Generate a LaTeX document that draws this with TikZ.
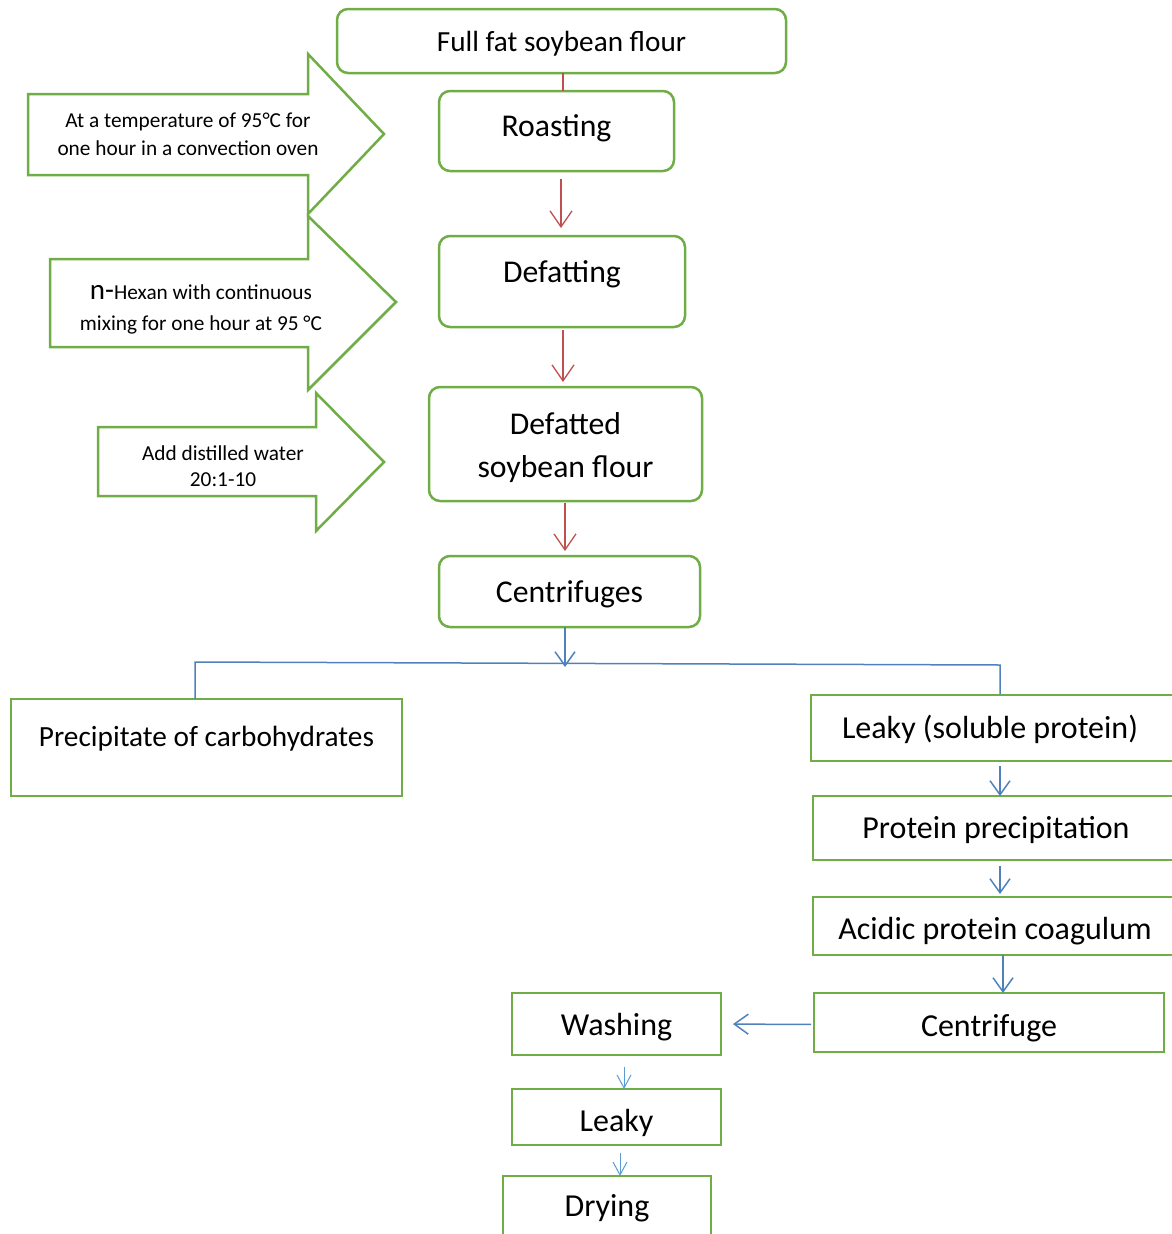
\documentclass[tikz,border=0pt]{standalone}
\usepackage{fontspec}
\setmainfont{Carlito}
\usetikzlibrary{arrows.meta}
\definecolor{grn}{HTML}{70AD47}
\definecolor{rd}{HTML}{C0504D}
\definecolor{bl}{HTML}{4F81BD}
\definecolor{lbl}{HTML}{5B9BD5}
\begin{document}
\begin{tikzpicture}[x=1pt,y=-1pt,
  rbox/.style={draw=grn, line width=2.5pt, rounded corners=11pt, inner sep=0pt, outer sep=0pt, align=center, font=\fontsize{31.7}{43}\selectfont},
  sbox/.style={draw=grn, line width=2.5pt, inner sep=0pt, outer sep=0pt, align=center, font=\fontsize{32}{36}\selectfont},
  btxt/.style={inner sep=0pt, align=center, font=\fontsize{32}{36}\selectfont},
  bigarrow/.style={draw=grn, line width=2.5pt, fill=white},
  atxt/.style={inner sep=0pt, align=center},
  redl/.style={draw=rd, line width=1.3pt},
  reda/.style={draw=rd, line width=1.3pt, -{Straight Barb[length=16pt,width=22pt]}},
  bll/.style={draw=bl, line width=1.5pt},
  bla/.style={draw=bl, line width=1.5pt, -{Straight Barb[length=14pt,width=20pt]}},
  lba/.style={draw=lbl, line width=1pt, -{Straight Barb[length=13pt,width=14pt]}}
]
\useasboundingbox (0,0) rectangle (1171,1234);

% block arrows on the left
\draw[bigarrow] (28,94) -- (308,94) -- (308,54) -- (384,134) -- (308,214) -- (308,175) -- (28,175) -- cycle;
\draw[bigarrow] (50,259) -- (308,259) -- (308,216) -- (396,302) -- (308,390) -- (308,347) -- (50,347) -- cycle;
\draw[bigarrow] (98,427) -- (316,427) -- (316,393) -- (384,462) -- (316,531) -- (316,496) -- (98,496) -- cycle;
\node[atxt, font=\fontsize{21.3}{28}\selectfont] (t1) at (188,134) {At a temperature of 95°C for\\one hour in a convection oven};
\node[atxt, font=\fontsize{21.3}{31}\selectfont] (t2) at (201,309) {{\fontsize{29}{29}\selectfont n-}Hexan with continuous\\mixing for one hour at 95 °C};
\node[atxt, font=\fontsize{21.3}{26}\selectfont] (t3) at (223,466) {Add distilled water\\20:1-10};

% main column
\node[rbox, font=\fontsize{29.2}{34}\selectfont, text height=25pt, minimum width=449pt, minimum height=64pt] (full) at (561.5,41) {Full fat soybean flour};
\node[rbox, text depth=11pt, minimum width=235pt, minimum height=80pt] (roast) at (556.5,131) {Roasting};
\node[rbox, text depth=20pt, minimum width=246pt, minimum height=91pt] (defat) at (562,281.5) {Defatting};
\node[rbox, minimum width=273pt, minimum height=114pt] (deff) at (565.5,444) {};
\node[atxt, font=\fontsize{31.7}{43}\selectfont] (defft) at (565.5,448) {Defatted\\soybean flour};
\node[rbox, text height=27pt, minimum width=261pt, minimum height=71pt] (cent) at (569.5,591.5) {Centrifuges};

\draw[redl] ([xshift=1.5pt]full.south) -- ([xshift=1.5pt]full.south |- roast.north);
\draw[reda, shorten <=8pt, shorten >=8pt] ([xshift=4.5pt]roast.south) -- ([xshift=4.5pt]roast.south |- defat.north);
\draw[reda, shorten <=3pt, shorten >=5pt] ([xshift=1pt]defat.south) -- ([xshift=1pt]defat.south |- deff.north);
\draw[reda, shorten <=2pt, shorten >=5pt] ([xshift=-0.5pt]deff.south) -- ([xshift=-0.5pt]deff.south |- cent.north);

% split
\coordinate (split) at (565,667);
\coordinate (jl) at (195,662);
\coordinate (jr) at (1000,665);
\draw[bla] ([xshift=-4.5pt]cent.south) -- (split);

\node[sbox, font=\fontsize{29.3}{34}\selectfont, minimum width=391pt, minimum height=97pt, text depth=23pt] (prec) at (206.5,747.5) {Precipitate of carbohydrates};
\draw[bll] (jl |- prec.north) -- (jl) -- (jr) -- (jr |- 0,695);

% right column
\node[sbox, minimum width=380pt, minimum height=66pt, anchor=west] (leak) at (811,728) {};
\node[btxt] (leakt) at (990,729) {Leaky (soluble protein)};
\node[sbox, minimum width=378pt, minimum height=64pt, anchor=west] (prot) at (813,828) {};
\node[btxt] (prott) at (996,830) {Protein precipitation};
\node[sbox, minimum width=378pt, minimum height=58pt, anchor=west] (acid) at (813,926) {};
\node[btxt] (acidt) at (995,931) {Acidic protein coagulum};
\node[sbox, text height=33pt, minimum width=350pt, minimum height=59pt] (cfg) at (989,1022.5) {Centrifuge};

\draw[bla, shorten <=5pt] ([xshift=-1pt]leak.south) -- ([xshift=-1pt]leak.south |- prot.north);
\draw[bla, shorten <=6pt, shorten >=3pt] ([xshift=-2pt]prot.south) -- ([xshift=-2pt]prot.south |- acid.north);
\draw[bla] ([xshift=1pt]acid.south) -- ([xshift=1pt]acid.south |- cfg.north);

% bottom column
\node[sbox, text height=29pt, minimum width=209pt, minimum height=62pt] (wash) at (616.5,1024) {Washing};
\node[sbox, text height=35pt, minimum width=209pt, minimum height=56pt] (leak2) at (616.5,1117) {Leaky};
\node[sbox, minimum width=208pt, minimum height=64pt] (dry) at (607,1208) {Drying};

\draw[bla, shorten <=3pt, shorten >=12pt] ([yshift=-2pt]cfg.west) -- (wash.east);
\draw[lba, shorten <=12pt] ([xshift=7.5pt]wash.south) -- ([xshift=7.5pt]wash.south |- leak2.north);
\draw[lba, shorten <=8pt] ([xshift=3.5pt]leak2.south) -- ([xshift=3.5pt]leak2.south |- dry.north);
\end{tikzpicture}
\end{document}
